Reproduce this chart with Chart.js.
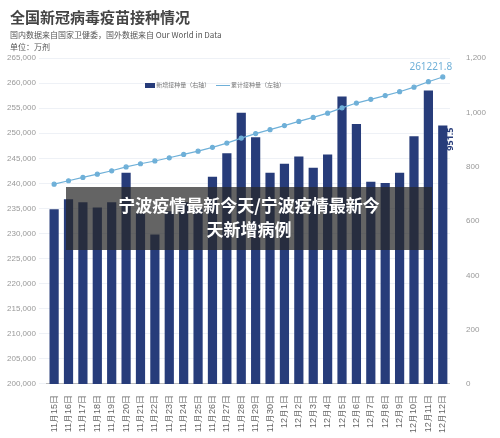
<!DOCTYPE html>
<html><head><meta charset="utf-8">
<script src="https://cdn.jsdelivr.net/npm/chart.js@4"></script>
<style>
body{margin:0;width:500px;height:438px;background:#fff;font-family:"Noto Sans CJK SC",sans-serif;position:relative;overflow:hidden}
#c{position:absolute;left:0;top:0}
.t{position:absolute;left:10px;color:#333}
#ov{position:absolute;left:66px;top:187px;width:366px;height:63px;background:rgba(40,40,40,0.72);color:#fff;font-weight:bold;font-size:17px;text-align:center;line-height:24px;padding-top:6px;box-sizing:border-box}
#lg{position:absolute;top:80px;left:145px;font-size:6px;color:#777}
</style></head><body>
<canvas id="c" width="500" height="438"></canvas>
<div class="t" style="top:6px;font-size:15px;font-weight:bold;color:#444">全国新冠病毒疫苗接种情况</div>
<div class="t" style="top:29px;font-size:8px;color:#555">国内数据来自国家卫健委，国外数据来自 Our World in Data</div>
<div class="t" style="top:41px;font-size:8px;color:#555">单位：万剂</div>
<div id="lg"><span style="display:inline-block;width:10px;height:5px;background:#273c7a;vertical-align:middle"></span> 新增接种量（右轴） &nbsp;&nbsp;&nbsp;<span style="display:inline-block;width:14px;height:1px;background:#6fb0d8;vertical-align:middle"></span> 累计接种量（左轴）</div>
<div id="ov">宁波疫情最新今天/宁波疫情最新今<br>天新增病例</div>
<script>
const categories=["11月15日","11月16日","11月17日","11月18日","11月19日","11月20日","11月21日","11月22日","11月23日","11月24日","11月25日","11月26日","11月27日","11月28日","11月29日","11月30日","12月1日","12月2日","12月3日","12月4日","12月5日","12月6日","12月7日","12月8日","12月9日","12月10日","12月11日","12月12日"];
const newDoses=[643,680,669,650,669,778,628,550,636,669,643,763,849,998,908,778,811,837,796,845,1058,957,744,740,778,912,1080,951.5];
const cumulative=[239844,240524,241193,241843,242512,243290,243918,244468,245104,245773,246416,247179,248028,249026,249934,250712,251523,252360,253156,254001,255059,256016,256760,257500,258278,259190,260270,261221.8];
const labelPlugin={id:'lbl',afterDatasetsDraw(ch){const c=ch.ctx;const n=categories.length-1;
const p=ch.getDatasetMeta(1).data[n];c.save();c.fillStyle='#6fb0d8';c.font='10px Noto Sans';c.textAlign='center';c.fillText('261221.8',p.x-12,p.y-7);
const b=ch.getDatasetMeta(0).data[n];c.fillStyle='#273c7a';c.font='bold 9px Noto Sans';c.translate(b.x+10,b.y+2);c.rotate(-Math.PI/2);c.textAlign='right';c.fillText('951.5',0,0);c.restore();}};
new Chart(document.getElementById('c'),{data:{labels:categories,datasets:[
{type:'bar',data:newDoses,yAxisID:'y1',backgroundColor:'#273c7a',categoryPercentage:0.8,barPercentage:0.8,order:2},
{type:'line',data:cumulative,yAxisID:'y',borderColor:'#6fb0d8',backgroundColor:'#6fb0d8',borderWidth:1.2,pointRadius:2,order:1}]},
options:{responsive:false,animation:false,layout:{padding:{top:58,left:4,right:6,bottom:2}},plugins:{legend:{display:false},tooltip:{enabled:false}},
scales:{x:{grid:{display:false},border:{color:'#bbb'},ticks:{color:'#666',font:{size:9},maxRotation:90,minRotation:90,autoSkip:false}},
y:{position:'left',min:200000,max:265000,ticks:{stepSize:5000,color:'#999',font:{size:8}},grid:{color:'#eef1f6'},border:{display:false}},
y1:{position:'right',min:0,max:1200,ticks:{stepSize:200,color:'#999',font:{size:8},padding:8},grid:{display:false},border:{display:false}}}},
plugins:[labelPlugin]});
</script></body></html>
